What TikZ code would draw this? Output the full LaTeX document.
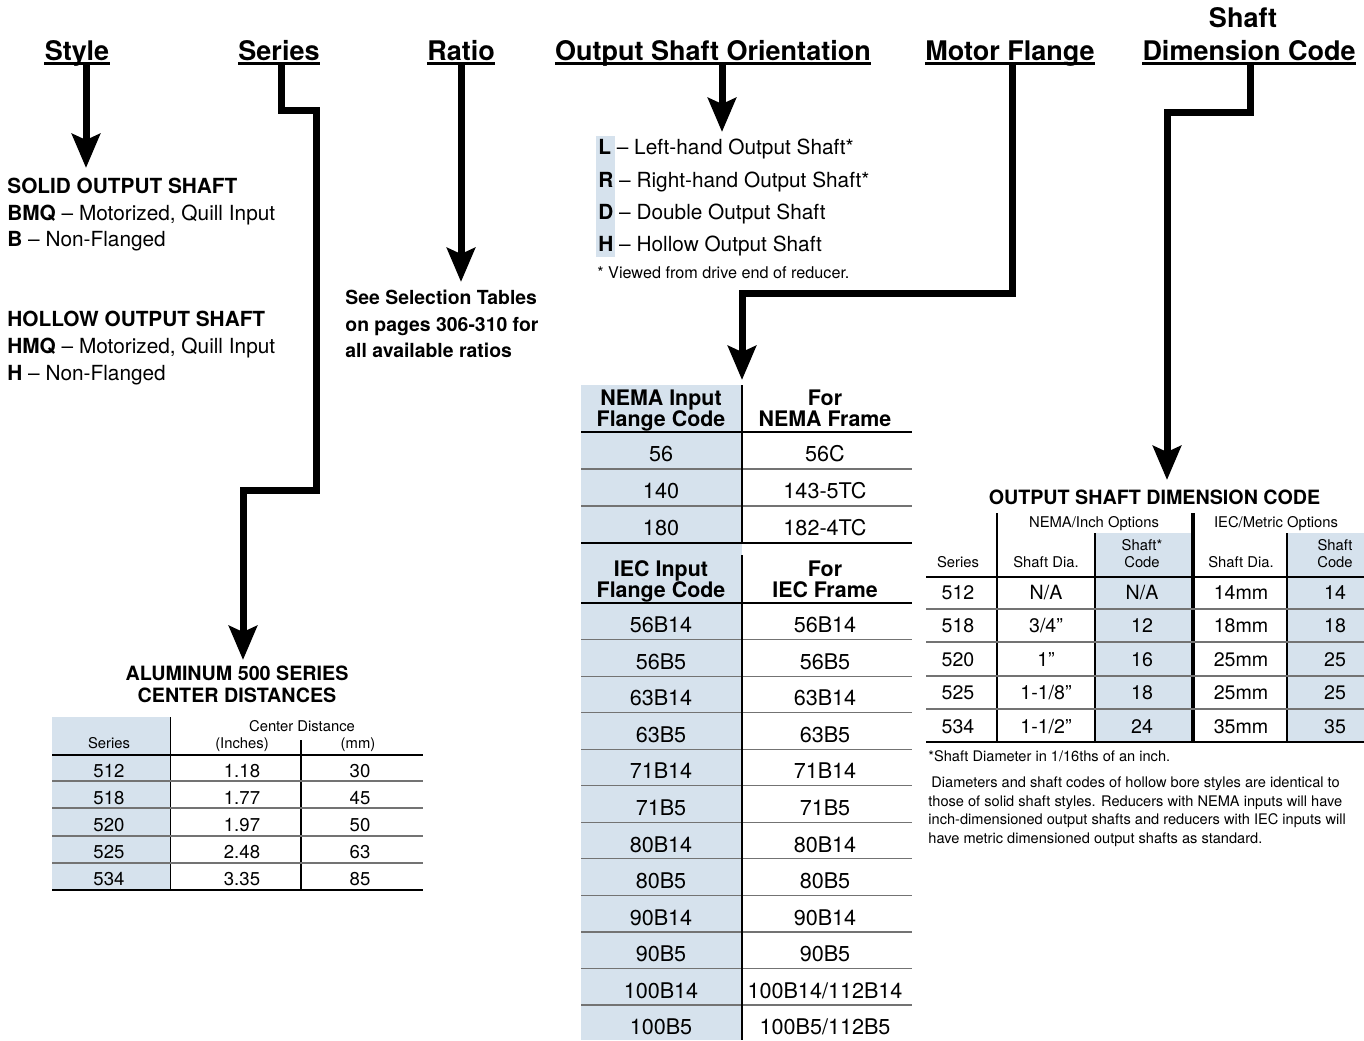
\documentclass[tikz,border=0pt]{standalone}
\usepackage{fontspec}
\setmainfont{TeX Gyre Heros}
\usetikzlibrary{arrows.meta,calc}
\definecolor{shadeblue}{RGB}{214,226,237}
\definecolor{rulegray}{RGB}{115,115,115}
\newcommand\myfs[1]{\fontsize{#1}{#1}\selectfont}
\begin{document}
\begin{tikzpicture}[x=0.5pt,y=-0.5pt,
  hdr/.style={anchor=base,inner sep=0pt,font=\myfs{13.5}\bfseries},
  txt/.style={anchor=base west,inner sep=0pt,font=\myfs{10.4}},
  btxt/.style={anchor=base west,inner sep=0pt,font=\myfs{10.4}\bfseries},
  ratiotxt/.style={anchor=base west,inner sep=0pt,font=\myfs{9.7}\bfseries},
  mcell/.style={anchor=base,inner sep=0pt,font=\myfs{10.8}},
  mhead/.style={anchor=base,inner sep=0pt,font=\myfs{10.7}\bfseries},
  scell/.style={anchor=base,inner sep=0pt,font=\myfs{9.3}},
  rcell/.style={anchor=base,inner sep=0pt,font=\myfs{9.8}},
  small/.style={anchor=base,inner sep=0pt,font=\myfs{7.4}},
  note/.style={anchor=base west,inner sep=0pt,font=\myfs{7.3}},
  ttl/.style={anchor=base,inner sep=0pt,font=\myfs{9.85}\bfseries},
  conn/.style={line width=3.5pt,line join=miter,-{Stealth[length=17pt,width=14pt,inset=3pt]}},
  uline/.style={line width=1.2pt},
  blk/.style={line width=1pt},
  gry/.style={line width=0.6pt,draw=rulegray},
]
\useasboundingbox (0,0) rectangle (1364,1040);

% ---------- shading ----------
\fill[shadeblue] (596,136) rectangle (615,257);
\fill[shadeblue] (581,385) rectangle (742,1040);
\fill[shadeblue] (52,717) rectangle (170,890);
\fill[shadeblue] (1095,533) rectangle (1192,742);
\fill[shadeblue] (1287,533) rectangle (1364,742);

% ---------- headers ----------
\node[hdr] (hStyle) at (77,60) {Style};
\node[hdr] (hSeries) at (279,60) {Series};
\node[hdr] (hRatio) at (461,60) {Ratio};
\node[hdr] (hOSO) at (713,60) {Output Shaft Orientation};
\node[hdr] (hMF) at (1010,60) {Motor Flange};
\node[hdr] (hSDCa) at (1243,27) {Shaft};
\node[hdr] (hSDC) at (1249,60) {Dimension Code};
\foreach \h in {hStyle,hSeries,hRatio,hOSO,hMF,hSDC}
  \draw[uline] ($(\h.base west)+(0,3.5)$) -- ($(\h.base east)+(0,3.5)$);

% ---------- style block ----------
\node[btxt] (solid) at (7,193) {SOLID OUTPUT SHAFT};
\node[txt] (bmq) at (7,220) {\textbf{BMQ} – Motorized, Quill Input};
\node[txt] (bnf) at (7,246.5) {\textbf{B} – Non-Flanged};
\node[btxt] (hollow) at (7,326) {HOLLOW OUTPUT SHAFT};
\node[txt] (hmq) at (7,353) {\textbf{HMQ} – Motorized, Quill Input};
\node[txt] (hnf) at (7,380) {\textbf{H} – Non-Flanged};

% ---------- ratio block ----------
\node[ratiotxt] (r1) at (345,304) {See Selection Tables};
\node[ratiotxt] (r2) at (345,331) {on pages 306-310 for};
\node[ratiotxt] (r3) at (345,357) {all available ratios};

% ---------- orientation block ----------
\node[txt] (oL) at (598,154.5) {\textbf{L} – Left-hand Output Shaft*};
\node[txt] (oR) at (598,187.5) {\textbf{R} – Right-hand Output Shaft*};
\node[txt] (oD) at (598,219.5) {\textbf{D} – Double Output Shaft};
\node[txt] (oH) at (598,251.5) {\textbf{H} – Hollow Output Shaft};
\node[txt,font=\myfs{8.1}] (oNote) at (597,278) {* Viewed from drive end of reducer.};

% ---------- middle table ----------
\draw[blk] (581,432) -- (912,432);
\foreach \y in {469,506} \draw[gry] (581,\y) -- (912,\y);
\draw[line width=1.4pt] (581,543) -- (912,543);
\draw[blk] (581,603) -- (912,603);
\foreach \i in {1,...,11}{\pgfmathsetmacro\yy{603+\i*36.55}\draw[gry] (581,\yy) -- (912,\yy);}
\draw[blk] (742,385) -- (742,543);
\draw[blk] (742,555) -- (742,1040);
\node[mhead] (nh1a) at (661,405.7) {NEMA Input};
\node[mhead] (nh1b) at (661,426.7) {Flange Code};
\node[mhead] (nh2a) at (825,405.7) {For};
\node[mhead] (nh2b) at (825,426.7) {NEMA Frame};
\foreach \a/\b [count=\i] in {56/56C,140/143-5TC,180/182-4TC}{
  \pgfmathsetmacro\yy{453.5+(\i-1)*37+7.7}
  \node[mcell] (nl\i) at (661,\yy) {\a};
  \node[mcell] (nr\i) at (825,\yy) {\b};
}
\node[mhead] (ih1a) at (661,576.7) {IEC Input};
\node[mhead] (ih1b) at (661,597.7) {Flange Code};
\node[mhead] (ih2a) at (825,576.7) {For};
\node[mhead] (ih2b) at (825,597.7) {IEC Frame};
\foreach \a/\b [count=\i] in {56B14/56B14,56B5/56B5,63B14/63B14,63B5/63B5,71B14/71B14,71B5/71B5,80B14/80B14,80B5/80B5,90B14/90B14,90B5/90B5,100B14/{100B14/112B14},100B5/{100B5/112B5}}{
  \pgfmathsetmacro\yy{625+(\i-1)*36.55+7.7}
  \node[mcell] (il\i) at (661,\yy) {\a};
  \node[mcell] (ir\i) at (825,\yy) {\b};
}

% ---------- left table ----------
\node[ttl] (at1) at (237,680) {ALUMINUM 500 SERIES};
\node[ttl] (at2) at (237,702) {CENTER DISTANCES};
\draw[line width=0.8pt] (170.5,717) -- (170.5,890);
\draw[line width=0.8pt] (301,740) -- (301,890);
\draw[line width=0.8pt] (52,755) -- (423,755);
\foreach \y in {781,808,836,863} \draw[gry] (52,\y) -- (423,\y);
\draw[blk] (52,890) -- (423,890);
\node[small] (lcd) at (302,731.5) {Center Distance};
\node[small] (lin) at (242,748.5) {(Inches)};
\node[small] (lmm) at (358,748.5) {(mm)};
\node[small] (lser) at (109,748.5) {Series};
\foreach \s/\a/\b [count=\i] in {512/1.18/30,518/1.77/45,520/1.97/50,525/2.48/63,534/3.35/85}{
  \pgfmathsetmacro\yy{770.5+(\i-1)*27+6.6}
  \node[scell] (ls\i) at (109,\yy) {\s};
  \node[scell] (li\i) at (242,\yy) {\a};
  \node[scell] (lm\i) at (360,\yy) {\b};
}

% ---------- right table ----------
\node[ttl] (rt) at (1154.5,504) {OUTPUT SHAFT DIMENSION CODE};
\draw[line width=0.8pt] (997,513) -- (997,742);
\draw[line width=2pt] (1193,513) -- (1193,742);
\draw[line width=0.6pt] (1095,533) -- (1095,742);
\draw[line width=0.6pt] (1287,533) -- (1287,742);
\draw[blk] (926,577) -- (1364,577);
\foreach \y in {609,642,676,709} \draw[gry] (926,\y) -- (1364,\y);
\draw[blk] (926,742) -- (1364,742);
\node[small] (rg1) at (1094,527.5) {NEMA/Inch Options};
\node[small] (rg2) at (1276,527.5) {IEC/Metric Options};
\node[small] (rh1) at (958,567.5) {Series};
\node[small] (rh2) at (1046,567.5) {Shaft Dia.};
\node[small] (rh3a) at (1142,550.5) {Shaft*};
\node[small] (rh3b) at (1142,567.5) {Code};
\node[small] (rh4) at (1241,567.5) {Shaft Dia.};
\node[small] (rh5a) at (1335,550.5) {Shaft};
\node[small] (rh5b) at (1335,567.5) {Code};
\foreach \s/\d/\c/\m/\k [count=\i] in {512/{N/A}/{N/A}/14mm/14,518/{3/4”}/12/18mm/18,520/1”/16/25mm/25,525/{1-1/8”}/18/25mm/25,534/{1-1/2”}/24/35mm/35}{
  \pgfmathsetmacro\yy{592.5+(\i-1)*33.4+7}
  \node[rcell] (rs\i) at (958,\yy) {\s};
  \node[rcell] (rd\i) at (1046,\yy) {\d};
  \node[rcell] (rc\i) at (1142,\yy) {\c};
  \node[rcell] (rm\i) at (1241,\yy) {\m};
  \node[rcell] (rk\i) at (1335,\yy) {\k};
}
\node[note] (n0) at (928,761) {*Shaft Diameter in 1/16ths of an inch.};
\node[note] (n1) at (931,787.3) {Diameters and shaft codes of hollow bore styles are identical to};
\node[note] (n2) at (928,806) {those of solid shaft styles. Reducers with NEMA inputs will have};
\node[note] (n3) at (928,824.7) {inch-dimensioned output shafts and reducers with IEC inputs will};
\node[note] (n4) at (928,843.4) {have metric dimensioned output shafts as standard.};

% ---------- connectors ----------
\coordinate (tStyle) at (86,168);
\coordinate (tSeries) at (243,660);
\coordinate (tRatio) at (461,282);
\coordinate (tOSO) at (722,132);
\coordinate (tMF) at (742,380);
\coordinate (tSDC) at (1167,480);
\draw[conn] ($(hStyle.base)+(9,4)$) -- (tStyle);
\draw[conn] ($(hSeries.base)+(2,4)$) -- (281,110) -- (316,110) -- (316,490) -- (243,490) -- (tSeries);
\draw[conn] ($(hRatio.base)+(0,4)$) -- (tRatio);
\draw[conn] ($(hOSO.base)+(9,4)$) -- (tOSO);
\draw[conn] ($(hMF.base)+(2,4)$) -- (1012,293) -- (742,293) -- (tMF);
\draw[conn] ($(hSDC.base)+(1,4)$) -- (1250,112) -- (1167,112) -- (tSDC);
\end{tikzpicture}
\end{document}
